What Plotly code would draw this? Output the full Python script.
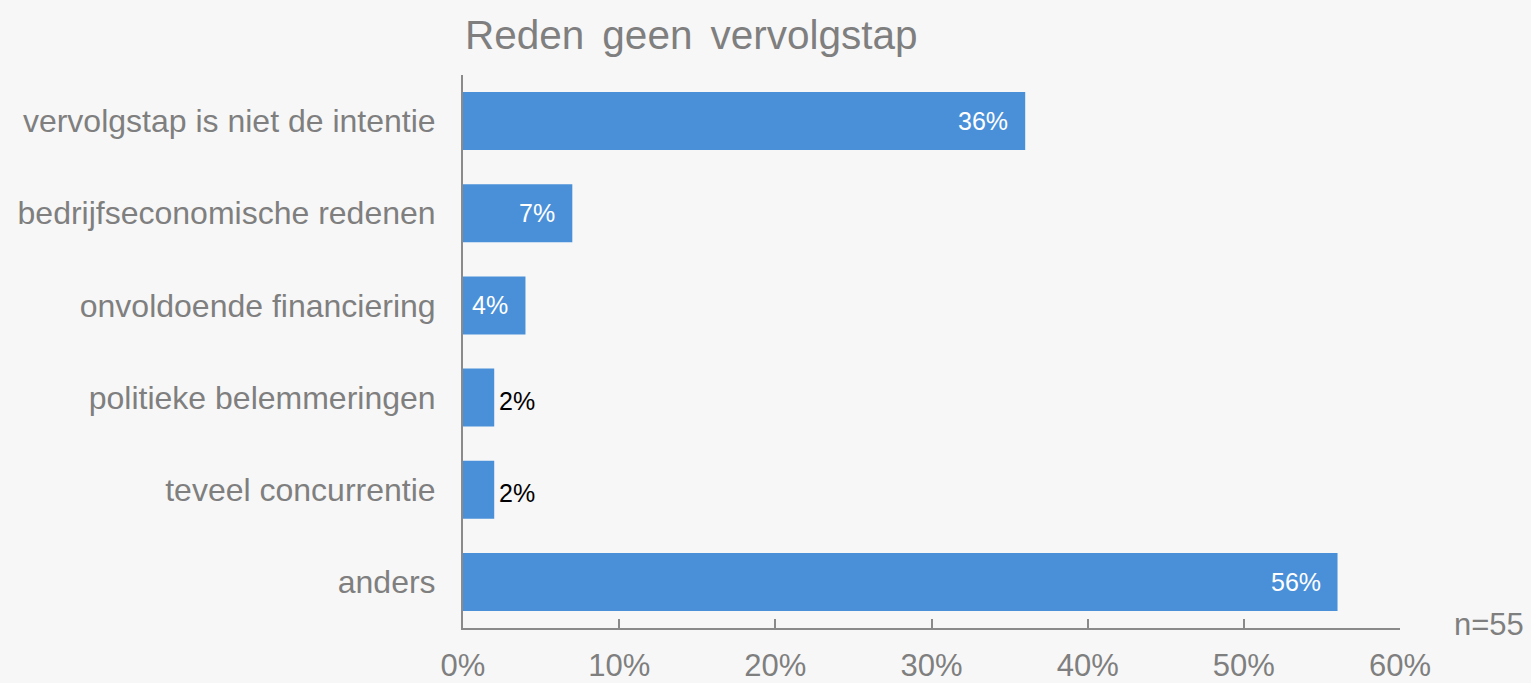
import plotly.graph_objects as go

categories = [
    "vervolgstap is niet de intentie",
    "bedrijfseconomische redenen",
    "onvoldoende financiering",
    "politieke belemmeringen",
    "teveel concurrentie",
    "anders",
]
values = [36, 7, 4, 2, 2, 56]
labels = ["36%", "7%", "4%", "2%", "2%", "56%"]
inside = [True, True, True, False, False, True]
x_ticks = [0, 10, 20, 30, 40, 50, 60]
x_tick_labels = ["0%", "10%", "20%", "30%", "40%", "50%", "60%"]

FONT = "Liberation Sans, Arial, sans-serif"
GRAY = "#7f7f7f"
AXIS = "#8a8a8a"
BAR = "#4a90d9"

fig = go.Figure(
    go.Bar(
        x=values,
        y=categories,
        orientation="h",
        marker=dict(color=BAR, line=dict(width=0)),
        hoverinfo="skip",
    )
)

annotations = []
for cat, v, lab, ins in zip(categories, values, labels, inside):
    annotations.append(
        dict(
            x=v, y=cat, xref="x", yref="y", text=lab, showarrow=False,
            xanchor="right" if ins else "left",
            xshift=-15 if ins else 3,
            yshift=0 if ins else -3,
            yanchor="middle",
            font=dict(family=FONT, size=25, color="white" if ins else "black"),
        )
    )

annotations.append(
    dict(
        x=(1452 - 463) / 937, y=(628 - 624) / 553, xref="paper", yref="paper",
        text="n=55", showarrow=False, xanchor="left", yanchor="middle",
        font=dict(family=FONT, size=31, color=GRAY),
    )
)

fig.update_layout(
    width=1531,
    height=683,
    paper_bgcolor="#f7f7f7",
    plot_bgcolor="#f7f7f7",
    margin=dict(l=463, r=131, t=75, b=55),
    bargap=0.37,
    showlegend=False,
    title=dict(
        text="Reden\u2006 geen\u2006 vervolgstap",
        x=465 / 1531, xref="container", xanchor="left",
        y=1 - 35 / 683, yref="container", yanchor="middle",
        font=dict(family=FONT, size=40.5, color=GRAY),
    ),
    annotations=annotations,
    xaxis=dict(
        range=[0, 60],
        tickvals=x_ticks,
        ticktext=x_tick_labels,
        ticks="inside",
        ticklen=9,
        tickwidth=2,
        tickcolor=AXIS,
        showline=True,
        linecolor=AXIS,
        linewidth=2,
        showgrid=False,
        zeroline=False,
        tickfont=dict(family=FONT, size=31, color=GRAY),
        ticklabelstandoff=9,
        automargin=False,
        fixedrange=True,
    ),
    yaxis=dict(
        categoryorder="array",
        categoryarray=categories[::-1],
        showline=True,
        linecolor=AXIS,
        linewidth=2,
        showgrid=False,
        zeroline=False,
        ticks="",
        tickfont=dict(family=FONT, size=32, color=GRAY),
        ticklabelstandoff=19,
        automargin=False,
        fixedrange=True,
    ),
)

fig.write_html(
    "out.html",
    config={"displayModeBar": False},
    post_script="document.body.style.margin='0';document.body.style.background='#f7f7f7';",
)
